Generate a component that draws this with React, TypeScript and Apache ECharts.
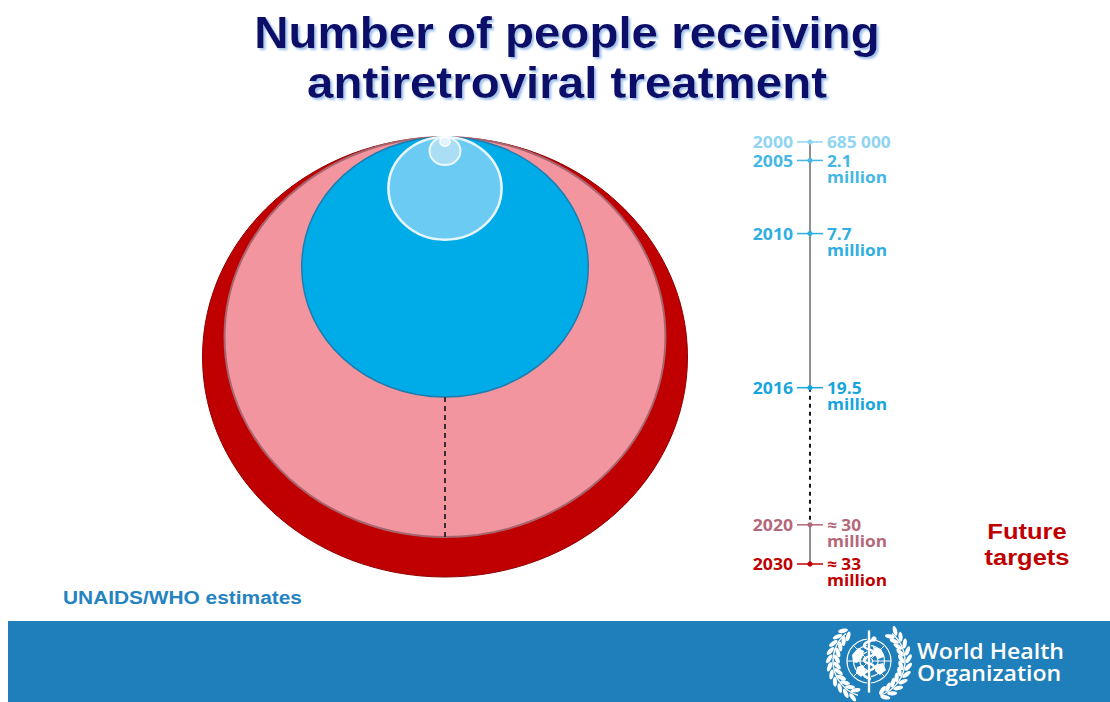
import React, { useEffect, useRef } from 'react';
import * as echarts from 'echarts';

// ---------- data ----------
const years = ['2000', '2005', '2010', '2016', '2020', '2030'];
const peopleMillions = [0.685, 2.1, 7.7, 19.5, 30, 33];
const valueLabels = ['685 000', '2.1\nmillion', '7.7\nmillion', '19.5\nmillion', '≈ 30\nmillion', '≈ 33\nmillion'];
const phases = ['estimate', 'estimate', 'estimate', 'estimate', 'target', 'target'];

const titleLines = ['Number of people receiving', 'antiretroviral treatment'];
const sourceNote = 'UNAIDS/WHO estimates';
const targetNote = ['Future', 'targets'];
const orgName = ['World Health', 'Organization'];

// ---------- styles ----------
const bubbleFill = ['#E2F4FC', '#A9DEF5', '#6BCBF2', '#00ACE8', '#F3959F', '#C00000'];
const bubbleStroke = ['#FFFFFF', '#EDF8FD', '#E8F6FC', '#1C7DB0', '#A8646F', '#900000'];
const bubbleStrokeW = [1.5, 2, 2.5, 1.5, 2, 1];
const labelColors = ['#8FD4F1', '#45B7E4', '#2FAEE0', '#17A5DC', '#B4687B', '#C00000'];

function buildLogo() {
  const cx = 869;
  const cy = 661;
  const children: any[] = [];
  const W = '#FFFFFF';
  const Z = 8;
  // laurel branches
  const R = 36;
  [-1, 1].forEach((s) => {
    const a0 = s < 0 ? Math.PI / 2 + (18 * Math.PI) / 180 : Math.PI / 2 - (140 * Math.PI) / 180;
    const a1 = s < 0 ? Math.PI / 2 + (140 * Math.PI) / 180 : Math.PI / 2 - (18 * Math.PI) / 180;
    children.push({
      type: 'arc',
      z: Z,
      shape: { cx, cy, r: R, startAngle: a0, endAngle: a1 },
      style: { stroke: W, lineWidth: 1.4, fill: 'none' },
    });
    for (let k = 0; k < 11; k++) {
      const th = ((22 + k * 11.5) * Math.PI) / 180;
      const px = cx + s * R * Math.sin(th);
      const py = cy + R * Math.cos(th);
      const tx = s * Math.cos(th);
      const ty = -Math.sin(th);
      const ang = Math.atan2(ty, tx);
      const nx = -ty;
      const ny = tx;
      [-1, 1].forEach((side) => {
        children.push({
          type: 'ellipse',
          z: Z,
          x: px + side * nx * 3.8 + tx * 1.5,
          y: py + side * ny * 3.8 + ty * 1.5,
          rotation: -(ang + side * 0.55 * s),
          shape: { cx: 0, cy: 0, rx: 5, ry: 2.1 },
          style: { fill: W },
        });
      });
    }
  });
  // globe (polar projection)
  [22, 15.5, 9, 3.5].forEach((r) => {
    children.push({ type: 'circle', z: Z, shape: { cx, cy, r }, style: { stroke: W, lineWidth: 1.2, fill: 'none' } });
  });
  for (let k = 0; k < 8; k++) {
    const a = (k * Math.PI) / 4;
    children.push({
      type: 'line',
      z: Z,
      shape: { x1: cx + 3.5 * Math.cos(a), y1: cy + 3.5 * Math.sin(a), x2: cx + 22 * Math.cos(a), y2: cy + 22 * Math.sin(a) },
      style: { stroke: W, lineWidth: 1 },
    });
  }
  // continents (rough)
  const blobs = [
    [[-17, -6], [-11, -13], [-5, -10], [-7, -3], [-12, 2], [-16, 1]],
    [[-12, 6], [-6, 4], [-3, 10], [-8, 16], [-13, 12]],
    [[4, -14], [12, -12], [15, -4], [9, -2], [5, -7]],
    [[6, 4], [14, 2], [17, 9], [11, 14], [6, 10]],
  ];
  blobs.forEach((b) => {
    children.push({ type: 'polygon', z: Z, shape: { points: b.map(([x, y]) => [cx + x, cy + y]) }, style: { fill: W } });
  });
  // staff and serpent
  children.push({ type: 'rect', z: Z + 1, shape: { x: cx - 1.6, y: cy - 31, width: 3.2, height: 63 }, style: { fill: W, stroke: '#1F7FBA', lineWidth: 0.8 } });
  children.push({
    type: 'polyline',
    z: Z + 2,
    shape: {
      points: [[cx + 4, cy - 21], [cx - 5, cy - 15], [cx + 5, cy - 8], [cx - 5, cy - 1], [cx + 5, cy + 6], [cx - 5, cy + 13], [cx + 2, cy + 18]],
      smooth: 0.6,
    },
    style: { stroke: W, lineWidth: 2.4, fill: 'none' },
  });
  children.push({ type: 'circle', z: Z + 2, shape: { cx: cx + 5, cy: cy - 22, r: 2.6 }, style: { fill: W } });
  return children;
}

export default function App() {
  const ref = useRef<HTMLDivElement>(null);

  useEffect(() => {
    if (!ref.current) return;
    const chart = echarts.init(ref.current, null, { renderer: 'svg' });
    const maxV = Math.max(...peopleMillions);
    const lastEst = phases.lastIndexOf('estimate');
    const firstTgt = phases.indexOf('target');
    const pts = peopleMillions.map((v) => [0, v]);
    const bubbleData = peopleMillions.map((v, i) => [v, i]).reverse();
    const labelFont = { fontSize: 16, fontWeight: 'bold', fontFamily: '"Open Sans", sans-serif' };

    const option: any = {
      animation: false,
      backgroundColor: '#FFFFFF',
      grid: [
        { left: 202.5, top: 137, width: 485, height: 440 },
        { left: 800, top: 133, width: 20, height: 431 },
      ],
      xAxis: [
        { gridIndex: 0, type: 'value', min: -maxV / 2, max: maxV / 2, show: false },
        { gridIndex: 1, type: 'value', min: -1, max: 1, show: false },
      ],
      yAxis: [
        { gridIndex: 0, type: 'value', inverse: true, min: 0, max: maxV, show: false },
        { gridIndex: 1, type: 'value', inverse: true, min: 0, max: maxV, show: false },
      ],
      series: [
        {
          type: 'custom',
          xAxisIndex: 0,
          yAxisIndex: 0,
          silent: true,
          z: 2,
          data: bubbleData,
          renderItem: (params: any, api: any) => {
            const v = api.value(0);
            const i = api.value(1);
            const c = api.coord([0, v / 2]);
            const s = api.size([v, v]);
            return {
              type: 'ellipse',
              shape: { cx: c[0], cy: c[1], rx: s[0] / 2, ry: s[1] / 2 },
              style: { fill: bubbleFill[i], stroke: bubbleStroke[i], lineWidth: bubbleStrokeW[i] },
            };
          },
        },
        {
          type: 'line',
          xAxisIndex: 0,
          yAxisIndex: 0,
          silent: true,
          z: 3,
          symbol: 'none',
          data: [pts[lastEst], pts[firstTgt]],
          lineStyle: { color: '#3B2B36', width: 2, type: [5, 4] },
        },
        {
          type: 'line',
          xAxisIndex: 1,
          yAxisIndex: 1,
          silent: true,
          z: 2,
          symbol: 'none',
          data: pts.filter((_, i) => phases[i] === 'estimate'),
          lineStyle: { color: '#8F8F8F', width: 2 },
        },
        {
          type: 'line',
          xAxisIndex: 1,
          yAxisIndex: 1,
          silent: true,
          z: 2,
          symbol: 'none',
          data: pts.filter((_, i) => phases[i] === 'target'),
          lineStyle: { color: '#8F8F8F', width: 2 },
        },
        {
          type: 'line',
          xAxisIndex: 1,
          yAxisIndex: 1,
          silent: true,
          z: 2,
          symbol: 'none',
          data: [pts[lastEst], pts[firstTgt]],
          lineStyle: { color: '#1A1A1A', width: 2, type: [4, 4] },
        },
        {
          type: 'custom',
          xAxisIndex: 1,
          yAxisIndex: 1,
          silent: true,
          z: 4,
          data: peopleMillions.map((v, i) => [0, v, i]),
          renderItem: (params: any, api: any) => {
            const v = api.value(1);
            const i = api.value(2);
            const p = api.coord([0, v]);
            const c = labelColors[i];
            return {
              type: 'group',
              children: [
                { type: 'line', shape: { x1: p[0] - 13, y1: p[1], x2: p[0] + 13, y2: p[1] }, style: { stroke: c, lineWidth: 1.5 } },
                { type: 'circle', shape: { cx: p[0], cy: p[1], r: 2.6 }, style: { fill: c } },
                {
                  type: 'text',
                  x: p[0] - 17,
                  y: p[1],
                  scaleX: 1.1,
                  style: { text: years[i], fill: c, align: 'right', verticalAlign: 'middle', ...labelFont },
                },
                {
                  type: 'text',
                  x: p[0] + 17,
                  y: p[1] - 8,
                  scaleX: 1.08,
                  style: { text: valueLabels[i], fill: c, align: 'left', verticalAlign: 'top', lineHeight: 16, ...labelFont },
                },
              ],
            };
          },
        },
      ],
      graphic: [
        { type: 'rect', z: 1, shape: { x: 8, y: 621, width: 1102, height: 81 }, style: { fill: '#1F7FBA' } },
        ...titleLines.map((t, k) => ({
          type: 'text',
          z: 10,
          x: 567,
          y: 33 + k * 50,
          scaleX: 1.08,
          style: {
            text: t,
            fill: '#0B0B6B',
            fontSize: 44,
            fontWeight: 'bold',
            fontFamily: '"Liberation Sans", Arial, sans-serif',
            align: 'center',
            verticalAlign: 'middle',
            textShadowColor: '#9DC0EC',
            textShadowOffsetX: 2,
            textShadowOffsetY: 2,
            textShadowBlur: 2,
          },
        })),
        {
          type: 'text',
          z: 10,
          x: 63,
          y: 598,
          scaleX: 1.16,
          style: {
            text: sourceNote,
            fill: '#2583C0',
            fontSize: 18,
            fontWeight: 'bold',
            fontFamily: '"Liberation Sans", Arial, sans-serif',
            align: 'left',
            verticalAlign: 'middle',
          },
        },
        {
          type: 'text',
          z: 10,
          x: 1027,
          y: 518,
          scaleX: 1.16,
          style: {
            text: targetNote.join('\n'),
            fill: '#C00000',
            fontSize: 22,
            lineHeight: 26,
            fontWeight: 'bold',
            fontFamily: '"Liberation Sans", Arial, sans-serif',
            align: 'center',
            verticalAlign: 'top',
          },
        },
        { type: 'group', z: 8, children: buildLogo() },
        {
          type: 'text',
          z: 10,
          x: 917,
          y: 640,
          scaleX: 1.05,
          style: {
            text: orgName.join('\n'),
            fill: '#FFFFFF',
            fontSize: 22,
            lineHeight: 22,
            fontWeight: 600,
            fontFamily: '"Open Sans", sans-serif',
            align: 'left',
            verticalAlign: 'top',
          },
        },
      ],
    };
    chart.setOption(option);
    return () => chart.dispose();
  }, []);

  return (
    <div
      ref={ref}
      style={{ position: 'fixed', left: 0, top: 0, width: 1110, height: 702, background: '#FFFFFF' }}
    />
  );
}
